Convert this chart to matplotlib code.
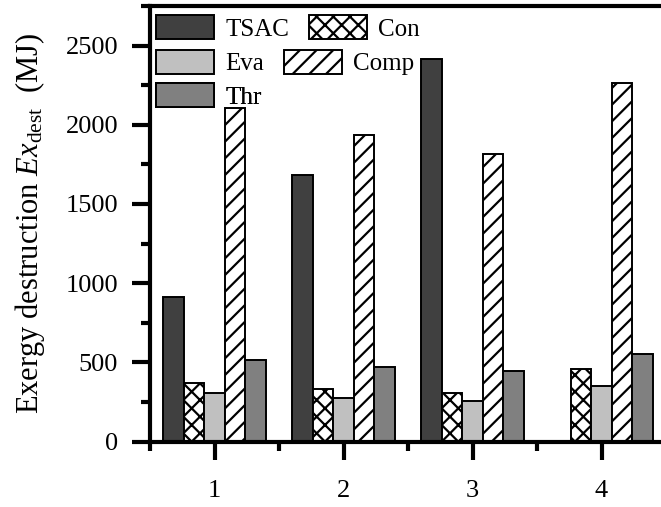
import numpy as np
import matplotlib
matplotlib.use('Agg')
import matplotlib.pyplot as plt
from matplotlib.patches import Patch
from matplotlib.ticker import MultipleLocator

# Data
cases = ['1', '2', '3', '4']
tsac = [915, 1683, 2414, 0]
con = [368, 332, 304, 456]
eva = [304, 277, 258, 352]
comp = [2105, 1935, 1814, 2263]
thr = [515, 473, 447, 551]

series_names = ['TSAC', 'Con', 'Eva', 'Comp', 'Thr']
series_values = [tsac, con, eva, comp, thr]
series_colors = ['#404040', 'white', '#c0c0c0', 'white', '#808080']
series_hatches = ['', 'xx', '', '//', '']

plt.rcParams['font.family'] = ['Liberation Serif', 'DejaVu Serif']
plt.rcParams['mathtext.fontset'] = 'custom'
plt.rcParams['mathtext.rm'] = 'Liberation Serif'
plt.rcParams['mathtext.it'] = 'Liberation Serif:italic'
plt.rcParams['hatch.linewidth'] = 1.6
plt.rcParams['hatch.color'] = 'black'

fig = plt.figure(figsize=(6.61, 5.07), dpi=100)
W, H = 661, 507
# axes in pixel terms (right edge runs past the figure, as in the reference)
x0, x1 = 150, 666
y_top, y_bot = 6, 441.5
ax = fig.add_axes([x0 / W, (H - y_bot) / H, (x1 - x0) / W, (y_bot - y_top) / H])

x = np.arange(1, len(cases) + 1)
bw = 0.16
for i, (name, vals, col, hat) in enumerate(zip(series_names, series_values, series_colors, series_hatches)):
    ax.bar(x + (i - 2) * bw, vals, width=bw, color=col, edgecolor='black',
           linewidth=1.4, hatch=hat, label=name, zorder=2)

ax.set_xlim(0.5, 4.5)
ax.set_ylim(0, 2750)
ax.set_xticks(x)
ax.set_xticklabels(cases)
ax.xaxis.set_minor_locator(MultipleLocator(1, offset=0.5))
ax.yaxis.set_major_locator(MultipleLocator(500))
ax.yaxis.set_minor_locator(MultipleLocator(250))

for s in ax.spines.values():
    s.set_linewidth(3)
ax.tick_params(which='major', direction='out', length=13, width=3, labelsize=19, top=False, right=False)
ax.tick_params(which='minor', direction='out', length=6.5, width=3, top=False, right=False)
ax.tick_params(axis='x', which='major', pad=15)
ax.tick_params(axis='y', which='major', pad=10)

ax.set_ylabel('Exergy destruction $Ex_{\\mathrm{dest}}$  (MJ)', fontsize=22, labelpad=13)

# Legend laid out row by row, like the reference
handles = {n: Patch(facecolor=c, edgecolor='black', linewidth=1.4, hatch=h)
           for n, c, h in zip(series_names, series_colors, series_hatches)}
rows = [['TSAC', 'Con'], ['Eva', 'Comp'], ['Thr']]
row_centers = [28, 62.5, 96]
for names, yc in zip(rows, row_centers):
    leg = ax.legend([handles[n] for n in names], names, ncol=len(names),
                    loc='center left', bbox_to_anchor=((156 - x0) / (x1 - x0), (y_bot - yc) / (y_bot - y_top)),
                    frameon=False, fontsize=18, borderpad=0, borderaxespad=0,
                    handlelength=2.32, handleheight=1.08, handletextpad=0.44,
                    columnspacing=0.8)
    ax.add_artist(leg)

fig.savefig('out.png', dpi=100)
